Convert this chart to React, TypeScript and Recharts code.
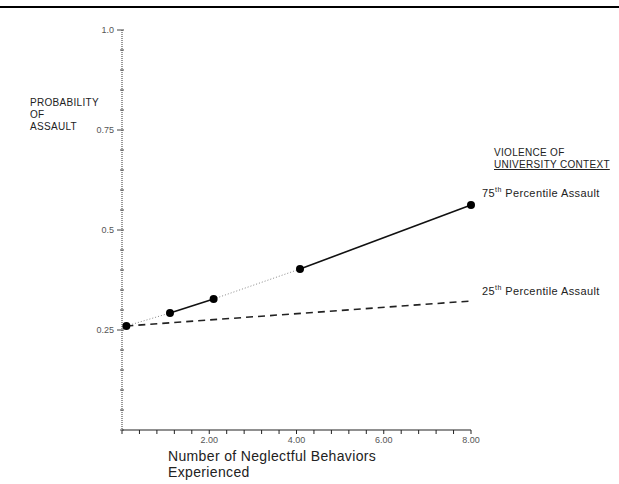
import React from "react"
import { LineChart, Line, XAxis, YAxis } from "recharts"

// neglectful behaviors (x) where the estimates were plotted
const xPoints = [0.1, 1.1, 2.1, 4.08, 8.0]
// probability of assault, 75th percentile university context
const p75 = [0.26, 0.2925, 0.3275, 0.4025, 0.5625]
// probability of assault, 25th percentile university context (end points only)
const p25 = [0.26, null, null, null, 0.3225]

// segment styles along the 75th percentile line
const p75SegmentStyles = ["dotted", "solid", "dotted", "solid"]

const yTicks = [0, 0.05, 0.1, 0.15, 0.2, 0.25, 0.3, 0.35, 0.4, 0.45, 0.5, 0.55, 0.6, 0.65, 0.7, 0.75, 0.8, 0.85, 0.9, 0.95, 1.0]
const yMajor = [0.25, 0.5, 0.75, 1.0]
const yMajorLabels = ["0.25", "0.5", "0.75", "1.0"]

const xTicks = [0, 0.4, 0.8, 1.2, 1.6, 2, 2.4, 2.8, 3.2, 3.6, 4, 4.4, 4.8, 5.2, 5.6, 6, 6.4, 6.8, 7.2, 7.6, 8]
const xMajor = [2, 4, 6, 8]
const xMajorLabels = ["2.00", "4.00", "6.00", "8.00"]

const FONT = "'Liberation Sans', Arial, sans-serif"

const data = xPoints.map((x, i) => {
  const row: Record<string, number | null> = { x, p75: p75[i], p25: p25[i] }
  p75SegmentStyles.forEach((_, s) => {
    row["seg" + s] = i === s || i === s + 1 ? p75[i] : null
  })
  return row
})

const findMajor = (list: number[], v: number) => list.findIndex((m) => Math.abs(m - v) < 1e-6)

function YTick(props: any) {
  const { x, y, payload } = props
  const idx = findMajor(yMajor, payload.value)
  return (
    <g>
      <line x1={x - (idx >= 0 ? 5 : 2)} x2={x + 2} y1={y} y2={y} stroke="#444" strokeWidth={1} />
      {idx >= 0 && (
        <text x={x - 8} y={y + 3} textAnchor="end" fontSize={9} fill="#555" fontFamily={FONT}>
          {yMajorLabels[idx]}
        </text>
      )}
    </g>
  )
}

function XTick(props: any) {
  const { x, y, payload } = props
  const idx = findMajor(xMajor, payload.value)
  return (
    <g>
      <line x1={x} x2={x} y1={y} y2={y + 4} stroke="#222" strokeWidth={1} />
      {idx >= 0 && (
        <text x={x} y={y + 13} textAnchor="middle" fontSize={9} fill="#555" fontFamily={FONT}>
          {xMajorLabels[idx]}
        </text>
      )}
    </g>
  )
}

const textStyle: React.CSSProperties = {
  position: "absolute",
  fontFamily: FONT,
  color: "#222",
  whiteSpace: "nowrap",
  lineHeight: 1,
}

export default function App() {
  return (
    <div style={{ position: "absolute", left: 0, top: 0, width: 619, height: 484, background: "#fff" }}>
      <div style={{ position: "absolute", left: 0, top: 6, width: 619, height: 2, background: "#000" }} />
      <LineChart width={619} height={484} data={data} margin={{ top: 30, right: 148, bottom: 34, left: 82 }}>
        <XAxis
          dataKey="x"
          type="number"
          domain={[0, 8]}
          ticks={xTicks}
          interval={0}
          tickSize={0}
          tickMargin={0}
          tickLine={false}
          tick={<XTick />}
          axisLine={{ stroke: "#222", strokeWidth: 1.2 }}
          height={20}
        />
        <YAxis
          type="number"
          domain={[0, 1]}
          ticks={yTicks}
          interval={0}
          tickSize={0}
          tickMargin={0}
          tickLine={false}
          tick={<YTick />}
          axisLine={{ stroke: "#777", strokeWidth: 1.5, strokeDasharray: "1 1" }}
          width={40}
        />
        <Line
          dataKey="p25"
          connectNulls
          stroke="#222"
          strokeWidth={1.6}
          strokeDasharray="7 5"
          dot={false}
          isAnimationActive={false}
        />
        {p75SegmentStyles.map((style, s) => (
          <Line
            key={s}
            dataKey={"seg" + s}
            stroke={style === "solid" ? "#111" : "#888"}
            strokeWidth={style === "solid" ? 1.6 : 1}
            strokeDasharray={style === "solid" ? undefined : "1 2"}
            dot={false}
            isAnimationActive={false}
          />
        ))}
        <Line
          dataKey="p75"
          stroke="none"
          dot={{ r: 4, fill: "#000", stroke: "#000", strokeWidth: 0 }}
          isAnimationActive={false}
        />
      </LineChart>

      <div style={{ ...textStyle, left: 30, top: 97, fontSize: 10, letterSpacing: 0.3, lineHeight: "12px" }}>
        PROBABILITY
        <br />
        OF
        <br />
        ASSAULT
      </div>

      <div style={{ ...textStyle, left: 494, top: 147, fontSize: 10, letterSpacing: 0.3, lineHeight: "12px" }}>
        VIOLENCE OF
        <br />
        <span style={{ textDecoration: "underline" }}>UNIVERSITY CONTEXT</span>
      </div>

      <div style={{ ...textStyle, left: 482, top: 186, fontSize: 11, letterSpacing: 0.4 }}>
        75<sup style={{ fontSize: 7 }}>th</sup> Percentile Assault
      </div>
      <div style={{ ...textStyle, left: 482, top: 284, fontSize: 11, letterSpacing: 0.4 }}>
        25<sup style={{ fontSize: 7 }}>th</sup> Percentile Assault
      </div>

      <div style={{ ...textStyle, left: 168, top: 448, fontSize: 14, letterSpacing: 0.35, lineHeight: "16px" }}>
        Number of Neglectful Behaviors
        <br />
        Experienced
      </div>
    </div>
  )
}
